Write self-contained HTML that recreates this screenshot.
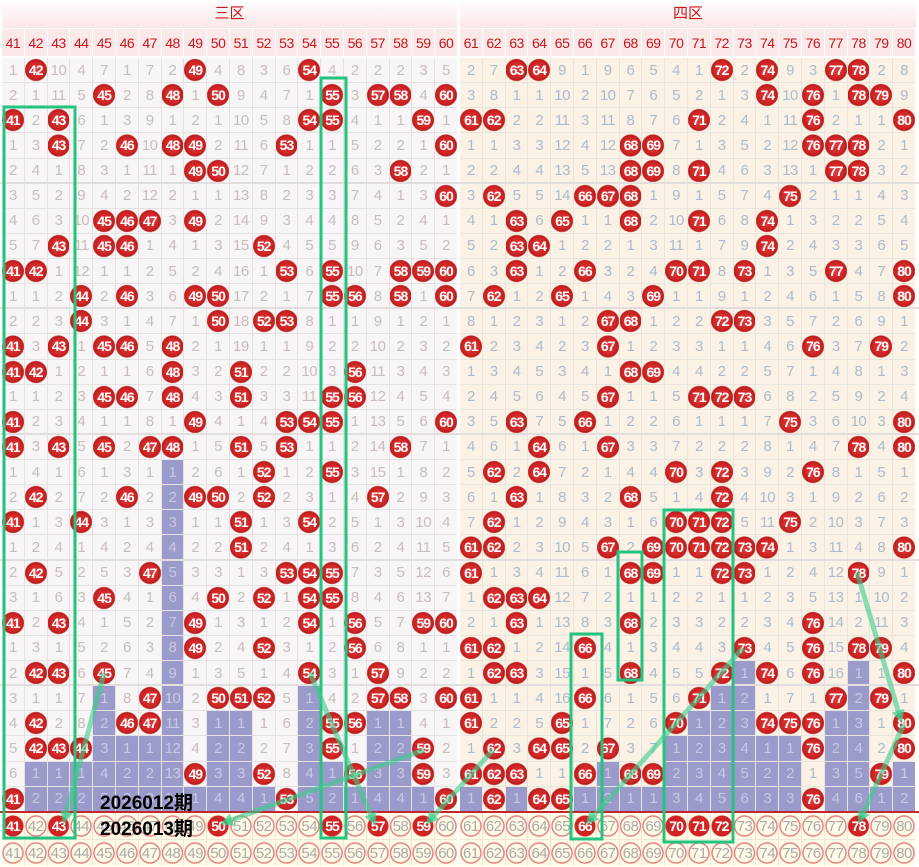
<!DOCTYPE html>
<html><head><meta charset="utf-8"><style>
*{margin:0;padding:0;box-sizing:border-box}
body{width:919px;height:867px;background:#fff;position:relative;overflow:hidden;font-family:"Liberation Sans","Noto Sans CJK SC",sans-serif}
.hd{position:absolute;top:0;height:28px;background:linear-gradient(#fff,#fbe6e6);color:#c8161d;font-size:15px;text-align:center;line-height:28px;font-family:"Liberation Sans","Noto Sans CJK SC",sans-serif}
.g{position:absolute;display:grid;grid-template-columns:repeat(20,21.8px);gap:1px;background:#e6e2e2}
.g>*{font-style:normal;text-decoration:none;font-weight:normal;display:flex;align-items:center;justify-content:center;font-size:15px;letter-spacing:-0.5px}
.n>*{background:#fbe8e8;color:#c8161d;font-size:14px}
.n{background:#fff}
.L>*{background:#f7f5f5;color:#cbbcbc}
.R{background:#e8e4de}
.R>*{background:#fbf1e4;color:#aabccd}
.g>b{color:#fff;font-weight:bold;font-size:14px;letter-spacing:-1px}
.L>b{background:radial-gradient(circle,#e23b3b 0,#d02525 8px,#b81c1c 10.5px,rgba(0,0,0,0) 11.5px),#f7f5f5}
.R>b{background:radial-gradient(circle,#e23b3b 0,#d02525 8px,#b81c1c 10.5px,rgba(0,0,0,0) 11.5px),#fbf1e4}
.g>u{background:#9a9acb;color:#c9c9e6}
.Y>*{background:#fffbe6}
.Y>s{color:#aaa;background:radial-gradient(circle,rgba(0,0,0,0) 0 9px,#e48585 9.5px 10.5px,rgba(0,0,0,0) 11px),#fffbe6}
.Y>b{background:radial-gradient(circle,#d42626 0,#cf2222 10px,rgba(0,0,0,0) 11px),#fffbe6}
.lbl{position:absolute;left:100px;font-weight:bold;font-size:19px;color:#000;font-family:"Liberation Sans","Noto Sans CJK SC",sans-serif}
.sep{position:absolute;left:0;width:919px;height:2px;background:#e2dede}
</style></head><body>
<div class="hd" style="left:2px;width:455px">三区</div>
<div class="hd" style="left:460px;width:456px">四区</div>
<div class="g n" style="left:2px;top:29px;grid-template-rows:27px"><i>41</i><i>42</i><i>43</i><i>44</i><i>45</i><i>46</i><i>47</i><i>48</i><i>49</i><i>50</i><i>51</i><i>52</i><i>53</i><i>54</i><i>55</i><i>56</i><i>57</i><i>58</i><i>59</i><i>60</i></div>
<div class="g n" style="left:460px;top:29px;grid-template-rows:27px"><i>61</i><i>62</i><i>63</i><i>64</i><i>65</i><i>66</i><i>67</i><i>68</i><i>69</i><i>70</i><i>71</i><i>72</i><i>73</i><i>74</i><i>75</i><i>76</i><i>77</i><i>78</i><i>79</i><i>80</i></div>

<div class="g L" style="left:2px;top:58px;grid-template-rows:repeat(30,24.13px)">
<i>1</i><b>42</b><i>10</i><i>4</i><i>7</i><i>1</i><i>7</i><i>2</i><b>49</b><i>4</i><i>8</i><i>3</i><i>6</i><b>54</b><i>4</i><i>2</i><i>2</i><i>2</i><i>3</i><i>5</i>
<i>2</i><i>1</i><i>11</i><i>5</i><b>45</b><i>2</i><i>8</i><b>48</b><i>1</i><b>50</b><i>9</i><i>4</i><i>7</i><i>1</i><b>55</b><i>3</i><b>57</b><b>58</b><i>4</i><b>60</b>
<b>41</b><i>2</i><b>43</b><i>6</i><i>1</i><i>3</i><i>9</i><i>1</i><i>2</i><i>1</i><i>10</i><i>5</i><i>8</i><b>54</b><b>55</b><i>4</i><i>1</i><i>1</i><b>59</b><i>1</i>
<i>1</i><i>3</i><b>43</b><i>7</i><i>2</i><b>46</b><i>10</i><b>48</b><b>49</b><i>2</i><i>11</i><i>6</i><b>53</b><i>1</i><i>1</i><i>5</i><i>2</i><i>2</i><i>1</i><b>60</b>
<i>2</i><i>4</i><i>1</i><i>8</i><i>3</i><i>1</i><i>11</i><i>1</i><b>49</b><b>50</b><i>12</i><i>7</i><i>1</i><i>2</i><i>2</i><i>6</i><i>3</i><b>58</b><i>2</i><i>1</i>
<i>3</i><i>5</i><i>2</i><i>9</i><i>4</i><i>2</i><i>12</i><i>2</i><i>1</i><i>1</i><i>13</i><i>8</i><i>2</i><i>3</i><i>3</i><i>7</i><i>4</i><i>1</i><i>3</i><b>60</b>
<i>4</i><i>6</i><i>3</i><i>10</i><b>45</b><b>46</b><b>47</b><i>3</i><b>49</b><i>2</i><i>14</i><i>9</i><i>3</i><i>4</i><i>4</i><i>8</i><i>5</i><i>2</i><i>4</i><i>1</i>
<i>5</i><i>7</i><b>43</b><i>11</i><b>45</b><b>46</b><i>1</i><i>4</i><i>1</i><i>3</i><i>15</i><b>52</b><i>4</i><i>5</i><i>5</i><i>9</i><i>6</i><i>3</i><i>5</i><i>2</i>
<b>41</b><b>42</b><i>1</i><i>12</i><i>1</i><i>1</i><i>2</i><i>5</i><i>2</i><i>4</i><i>16</i><i>1</i><b>53</b><i>6</i><b>55</b><i>10</i><i>7</i><b>58</b><b>59</b><b>60</b>
<i>1</i><i>1</i><i>2</i><b>44</b><i>2</i><b>46</b><i>3</i><i>6</i><b>49</b><b>50</b><i>17</i><i>2</i><i>1</i><i>7</i><b>55</b><b>56</b><i>8</i><b>58</b><i>1</i><b>60</b>
<i>2</i><i>2</i><i>3</i><b>44</b><i>3</i><i>1</i><i>4</i><i>7</i><i>1</i><b>50</b><i>18</i><b>52</b><b>53</b><i>8</i><i>1</i><i>1</i><i>9</i><i>1</i><i>2</i><i>1</i>
<b>41</b><i>3</i><b>43</b><i>1</i><b>45</b><b>46</b><i>5</i><b>48</b><i>2</i><i>1</i><i>19</i><i>1</i><i>1</i><i>9</i><i>2</i><i>2</i><i>10</i><i>2</i><i>3</i><i>2</i>
<b>41</b><b>42</b><i>1</i><i>2</i><i>1</i><i>1</i><i>6</i><b>48</b><i>3</i><i>2</i><b>51</b><i>2</i><i>2</i><i>10</i><i>3</i><b>56</b><i>11</i><i>3</i><i>4</i><i>3</i>
<i>1</i><i>1</i><i>2</i><i>3</i><b>45</b><b>46</b><i>7</i><b>48</b><i>4</i><i>3</i><b>51</b><i>3</i><i>3</i><i>11</i><b>55</b><b>56</b><i>12</i><i>4</i><i>5</i><i>4</i>
<b>41</b><i>2</i><i>3</i><i>4</i><i>1</i><i>1</i><i>8</i><i>1</i><b>49</b><i>4</i><i>1</i><i>4</i><b>53</b><b>54</b><b>55</b><i>1</i><i>13</i><i>5</i><i>6</i><b>60</b>
<b>41</b><i>3</i><b>43</b><i>5</i><b>45</b><i>2</i><b>47</b><b>48</b><i>1</i><i>5</i><b>51</b><i>5</i><b>53</b><i>1</i><i>1</i><i>2</i><i>14</i><b>58</b><i>7</i><i>1</i>
<i>1</i><i>4</i><i>1</i><i>6</i><i>1</i><i>3</i><i>1</i><u>1</u><i>2</i><i>6</i><i>1</i><b>52</b><i>1</i><i>2</i><b>55</b><i>3</i><i>15</i><i>1</i><i>8</i><i>2</i>
<i>2</i><b>42</b><i>2</i><i>7</i><i>2</i><b>46</b><i>2</i><u>2</u><b>49</b><b>50</b><i>2</i><b>52</b><i>2</i><i>3</i><i>1</i><i>4</i><b>57</b><i>2</i><i>9</i><i>3</i>
<b>41</b><i>1</i><i>3</i><b>44</b><i>3</i><i>1</i><i>3</i><u>3</u><i>1</i><i>1</i><b>51</b><i>1</i><i>3</i><b>54</b><i>2</i><i>5</i><i>1</i><i>3</i><i>10</i><i>4</i>
<i>1</i><i>2</i><i>4</i><i>1</i><i>4</i><i>2</i><i>4</i><u>4</u><i>2</i><i>2</i><b>51</b><i>2</i><i>4</i><i>1</i><i>3</i><i>6</i><i>2</i><i>4</i><i>11</i><i>5</i>
<i>2</i><b>42</b><i>5</i><i>2</i><i>5</i><i>3</i><b>47</b><u>5</u><i>3</i><i>3</i><i>1</i><i>3</i><b>53</b><b>54</b><b>55</b><i>7</i><i>3</i><i>5</i><i>12</i><i>6</i>
<i>3</i><i>1</i><i>6</i><i>3</i><b>45</b><i>4</i><i>1</i><u>6</u><i>4</i><b>50</b><i>2</i><b>52</b><i>1</i><b>54</b><b>55</b><i>8</i><i>4</i><i>6</i><i>13</i><i>7</i>
<b>41</b><i>2</i><b>43</b><i>4</i><i>1</i><i>5</i><i>2</i><u>7</u><b>49</b><i>1</i><i>3</i><i>1</i><i>2</i><b>54</b><i>1</i><b>56</b><i>5</i><i>7</i><b>59</b><b>60</b>
<i>1</i><i>3</i><i>1</i><i>5</i><i>2</i><i>6</i><i>3</i><u>8</u><b>49</b><i>2</i><i>4</i><b>52</b><i>3</i><i>1</i><i>2</i><b>56</b><i>6</i><i>8</i><i>1</i><i>1</i>
<i>2</i><b>42</b><b>43</b><i>6</i><b>45</b><i>7</i><i>4</i><u>9</u><i>1</i><i>3</i><i>5</i><i>1</i><i>4</i><b>54</b><i>3</i><i>1</i><b>57</b><i>9</i><i>2</i><i>2</i>
<i>3</i><i>1</i><i>1</i><i>7</i><u>1</u><i>8</i><b>47</b><u>10</u><i>2</i><b>50</b><b>51</b><b>52</b><i>5</i><u>1</u><i>4</i><i>2</i><b>57</b><b>58</b><i>3</i><b>60</b>
<i>4</i><b>42</b><i>2</i><i>8</i><u>2</u><b>46</b><b>47</b><u>11</u><i>3</i><u>1</u><u>1</u><i>1</i><i>6</i><u>2</u><b>55</b><b>56</b><u>1</u><u>1</u><i>4</i><i>1</i>
<i>5</i><b>42</b><b>43</b><b>44</b><u>3</u><u>1</u><u>1</u><u>12</u><i>4</i><u>2</u><u>2</u><i>2</i><i>7</i><u>3</u><b>55</b><i>1</i><u>2</u><u>2</u><b>59</b><i>2</i>
<i>6</i><u>1</u><u>1</u><u>1</u><u>4</u><u>2</u><u>2</u><u>13</u><b>49</b><u>3</u><u>3</u><b>52</b><i>8</i><u>4</u><u>1</u><b>56</b><u>3</u><u>3</u><b>59</b><i>3</i>
<b>41</b><u>2</u><u>2</u><u>2</u><u>5</u><u>3</u><u>3</u><u>14</u><u>1</u><u>4</u><u>4</u><u>1</u><b>53</b><u>5</u><u>2</u><u>1</u><u>4</u><u>4</u><u>1</u><b>60</b>
</div>

<div class="g L R" style="left:460px;top:58px;grid-template-rows:repeat(30,24.13px)">
<i>2</i><i>7</i><b>63</b><b>64</b><i>9</i><i>1</i><i>9</i><i>6</i><i>5</i><i>4</i><i>1</i><b>72</b><i>2</i><b>74</b><i>9</i><i>3</i><b>77</b><b>78</b><i>2</i><i>8</i>
<i>3</i><i>8</i><i>1</i><i>1</i><i>10</i><i>2</i><i>10</i><i>7</i><i>6</i><i>5</i><i>2</i><i>1</i><i>3</i><b>74</b><i>10</i><b>76</b><i>1</i><b>78</b><b>79</b><i>9</i>
<b>61</b><b>62</b><i>2</i><i>2</i><i>11</i><i>3</i><i>11</i><i>8</i><i>7</i><i>6</i><b>71</b><i>2</i><i>4</i><i>1</i><i>11</i><b>76</b><i>2</i><i>1</i><i>1</i><b>80</b>
<i>1</i><i>1</i><i>3</i><i>3</i><i>12</i><i>4</i><i>12</i><b>68</b><b>69</b><i>7</i><i>1</i><i>3</i><i>5</i><i>2</i><i>12</i><b>76</b><b>77</b><b>78</b><i>2</i><i>1</i>
<i>2</i><i>2</i><i>4</i><i>4</i><i>13</i><i>5</i><i>13</i><b>68</b><b>69</b><i>8</i><b>71</b><i>4</i><i>6</i><i>3</i><i>13</i><i>1</i><b>77</b><b>78</b><i>3</i><i>2</i>
<i>3</i><b>62</b><i>5</i><i>5</i><i>14</i><b>66</b><b>67</b><b>68</b><i>1</i><i>9</i><i>1</i><i>5</i><i>7</i><i>4</i><b>75</b><i>2</i><i>1</i><i>1</i><i>4</i><i>3</i>
<i>4</i><i>1</i><b>63</b><i>6</i><b>65</b><i>1</i><i>1</i><b>68</b><i>2</i><i>10</i><b>71</b><i>6</i><i>8</i><b>74</b><i>1</i><i>3</i><i>2</i><i>2</i><i>5</i><i>4</i>
<i>5</i><i>2</i><b>63</b><b>64</b><i>1</i><i>2</i><i>2</i><i>1</i><i>3</i><i>11</i><i>1</i><i>7</i><i>9</i><b>74</b><i>2</i><i>4</i><i>3</i><i>3</i><i>6</i><i>5</i>
<i>6</i><i>3</i><b>63</b><i>1</i><i>2</i><b>66</b><i>3</i><i>2</i><i>4</i><b>70</b><b>71</b><i>8</i><b>73</b><i>1</i><i>3</i><i>5</i><b>77</b><i>4</i><i>7</i><b>80</b>
<i>7</i><b>62</b><i>1</i><i>2</i><b>65</b><i>1</i><i>4</i><i>3</i><b>69</b><i>1</i><i>1</i><i>9</i><i>1</i><i>2</i><i>4</i><i>6</i><i>1</i><i>5</i><i>8</i><b>80</b>
<i>8</i><i>1</i><i>2</i><i>3</i><i>1</i><i>2</i><b>67</b><b>68</b><i>1</i><i>2</i><i>2</i><b>72</b><b>73</b><i>3</i><i>5</i><i>7</i><i>2</i><i>6</i><i>9</i><i>1</i>
<b>61</b><i>2</i><i>3</i><i>4</i><i>2</i><i>3</i><b>67</b><i>1</i><i>2</i><i>3</i><i>3</i><i>1</i><i>1</i><i>4</i><i>6</i><b>76</b><i>3</i><i>7</i><b>79</b><i>2</i>
<i>1</i><i>3</i><i>4</i><i>5</i><i>3</i><i>4</i><i>1</i><b>68</b><b>69</b><i>4</i><i>4</i><i>2</i><i>2</i><i>5</i><i>7</i><i>1</i><i>4</i><i>8</i><i>1</i><i>3</i>
<i>2</i><i>4</i><i>5</i><i>6</i><i>4</i><i>5</i><b>67</b><i>1</i><i>1</i><i>5</i><b>71</b><b>72</b><b>73</b><i>6</i><i>8</i><i>2</i><i>5</i><i>9</i><i>2</i><i>4</i>
<i>3</i><i>5</i><b>63</b><i>7</i><i>5</i><b>66</b><i>1</i><i>2</i><i>2</i><i>6</i><i>1</i><i>1</i><i>1</i><i>7</i><b>75</b><i>3</i><i>6</i><i>10</i><i>3</i><b>80</b>
<i>4</i><i>6</i><i>1</i><b>64</b><i>6</i><i>1</i><b>67</b><i>3</i><i>3</i><i>7</i><i>2</i><i>2</i><i>2</i><i>8</i><i>1</i><i>4</i><i>7</i><b>78</b><i>4</i><b>80</b>
<i>5</i><b>62</b><i>2</i><b>64</b><i>7</i><i>2</i><i>1</i><i>4</i><i>4</i><b>70</b><i>3</i><b>72</b><i>3</i><i>9</i><i>2</i><b>76</b><i>8</i><i>1</i><i>5</i><i>1</i>
<i>6</i><i>1</i><b>63</b><i>1</i><i>8</i><i>3</i><i>2</i><b>68</b><i>5</i><i>1</i><i>4</i><b>72</b><i>4</i><i>10</i><i>3</i><i>1</i><i>9</i><i>2</i><i>6</i><i>2</i>
<i>7</i><b>62</b><i>1</i><i>2</i><i>9</i><i>4</i><i>3</i><i>1</i><i>6</i><b>70</b><b>71</b><b>72</b><i>5</i><i>11</i><b>75</b><i>2</i><i>10</i><i>3</i><i>7</i><i>3</i>
<b>61</b><b>62</b><i>2</i><i>3</i><i>10</i><i>5</i><b>67</b><i>2</i><b>69</b><b>70</b><b>71</b><b>72</b><b>73</b><b>74</b><i>1</i><i>3</i><i>11</i><i>4</i><i>8</i><b>80</b>
<b>61</b><i>1</i><i>3</i><i>4</i><i>11</i><i>6</i><i>1</i><b>68</b><b>69</b><i>1</i><i>1</i><b>72</b><b>73</b><i>1</i><i>2</i><i>4</i><i>12</i><b>78</b><i>9</i><i>1</i>
<i>1</i><b>62</b><b>63</b><b>64</b><i>12</i><i>7</i><i>2</i><i>1</i><i>1</i><i>2</i><i>2</i><i>1</i><i>1</i><i>2</i><i>3</i><i>5</i><i>13</i><i>1</i><i>10</i><i>2</i>
<i>2</i><i>1</i><b>63</b><i>1</i><i>13</i><i>8</i><i>3</i><b>68</b><i>2</i><i>3</i><i>3</i><i>2</i><i>2</i><i>3</i><i>4</i><b>76</b><i>14</i><i>2</i><i>11</i><i>3</i>
<b>61</b><b>62</b><i>1</i><i>2</i><i>14</i><b>66</b><i>4</i><i>1</i><i>3</i><i>4</i><i>4</i><i>3</i><b>73</b><i>4</i><i>5</i><b>76</b><i>15</i><b>78</b><b>79</b><i>4</i>
<i>1</i><b>62</b><b>63</b><i>3</i><i>15</i><i>1</i><i>5</i><b>68</b><i>4</i><i>5</i><i>5</i><b>72</b><u>1</u><b>74</b><i>6</i><b>76</b><i>16</i><u>1</u><i>1</i><b>80</b>
<b>61</b><i>1</i><i>1</i><i>4</i><i>16</i><b>66</b><i>6</i><i>1</i><i>5</i><i>6</i><b>71</b><u>1</u><u>2</u><i>1</i><i>7</i><i>1</i><b>77</b><u>2</u><b>79</b><i>1</i>
<b>61</b><i>2</i><i>2</i><i>5</i><b>65</b><i>1</i><i>7</i><i>2</i><i>6</i><b>70</b><u>1</u><u>2</u><u>3</u><b>74</b><b>75</b><b>76</b><u>1</u><u>3</u><i>1</i><b>80</b>
<i>1</i><b>62</b><i>3</i><b>64</b><b>65</b><i>2</i><b>67</b><i>3</i><i>7</i><u>1</u><u>2</u><u>3</u><u>4</u><u>1</u><u>1</u><b>76</b><u>2</u><u>4</u><i>2</i><b>80</b>
<b>61</b><b>62</b><b>63</b><i>1</i><i>1</i><b>66</b><u>1</u><b>68</b><b>69</b><u>2</u><u>3</u><u>4</u><u>5</u><u>2</u><u>2</u><i>1</i><u>3</u><u>5</u><b>79</b><u>1</u>
<u>1</u><b>62</b><u>1</u><b>64</b><b>65</b><u>1</u><u>2</u><u>1</u><u>1</u><u>3</u><u>4</u><u>5</u><u>6</u><u>3</u><u>3</u><b>76</b><u>4</u><u>6</u><u>1</u><u>2</u>
</div>
<div class="sep" style="top:182px"></div>
<div class="sep" style="top:307px"></div>
<div class="sep" style="top:433px"></div>
<div class="sep" style="top:559px"></div>
<div class="sep" style="top:684px"></div>

<div style="position:absolute;left:0;top:811px;width:919px;height:2px;background:#c0282d"></div>
<div class="g Y" style="left:2px;top:813px;grid-template-rows:26px 26px;background:#eee8d8">
<b>41</b><s>42</s><b>43</b><s>44</s><s>45</s><s>46</s><s>47</s><s>48</s><s>49</s><b>50</b><s>51</s><s>52</s><s>53</s><s>54</s><b>55</b><s>56</s><b>57</b><s>58</s><b>59</b><s>60</s>
<s>41</s><s>42</s><s>43</s><s>44</s><s>45</s><s>46</s><s>47</s><s>48</s><s>49</s><s>50</s><s>51</s><s>52</s><s>53</s><s>54</s><s>55</s><s>56</s><s>57</s><s>58</s><s>59</s><s>60</s>
</div>
<div class="g Y" style="left:460px;top:813px;grid-template-rows:26px 26px;background:#eee8d8">
<s>61</s><s>62</s><s>63</s><s>64</s><s>65</s><b>66</b><s>67</s><s>68</s><s>69</s><b>70</b><b>71</b><b>72</b><s>73</s><s>74</s><s>75</s><s>76</s><s>77</s><b>78</b><s>79</s><s>80</s>
<s>61</s><s>62</s><s>63</s><s>64</s><s>65</s><s>66</s><s>67</s><s>68</s><s>69</s><s>70</s><s>71</s><s>72</s><s>73</s><s>74</s><s>75</s><s>76</s><s>77</s><s>78</s><s>79</s><s>80</s>
</div>
<div class="lbl" style="top:788px">2026012期</div>
<div class="lbl" style="top:814px">2026013期</div>

<svg width="919" height="867" style="position:absolute;left:0;top:0">
<defs><marker id="a" markerWidth="2.6" markerHeight="2.6" refX="1.3" refY="1.3" orient="auto"><path d="M0,0L2.6,1.3L0,2.6z" fill="rgba(60,205,140,0.7)"/></marker></defs>
<g fill="none" stroke="#22c47f" stroke-width="3">
<rect x="4" y="107" width="71" height="731"/>
<rect x="321" y="78" width="25" height="760"/>
<rect x="571" y="634" width="31" height="205"/>
<rect x="618" y="552" width="24" height="128"/>
<rect x="664" y="510" width="69" height="332"/>
</g>
<g stroke="rgba(60,205,140,0.6)" stroke-width="5" fill="none" marker-end="url(#a)">
<line x1="104" y1="673" x2="65" y2="818"/>
<line x1="310" y1="673" x2="373" y2="820"/>
<line x1="424" y1="750" x2="226" y2="822"/>
<line x1="493" y1="750" x2="430" y2="820"/>
<line x1="743" y1="648" x2="590" y2="820"/>
<line x1="857" y1="572" x2="900" y2="717"/>
<line x1="904" y1="724" x2="861" y2="818"/>
</g>
</svg>
</body></html>
